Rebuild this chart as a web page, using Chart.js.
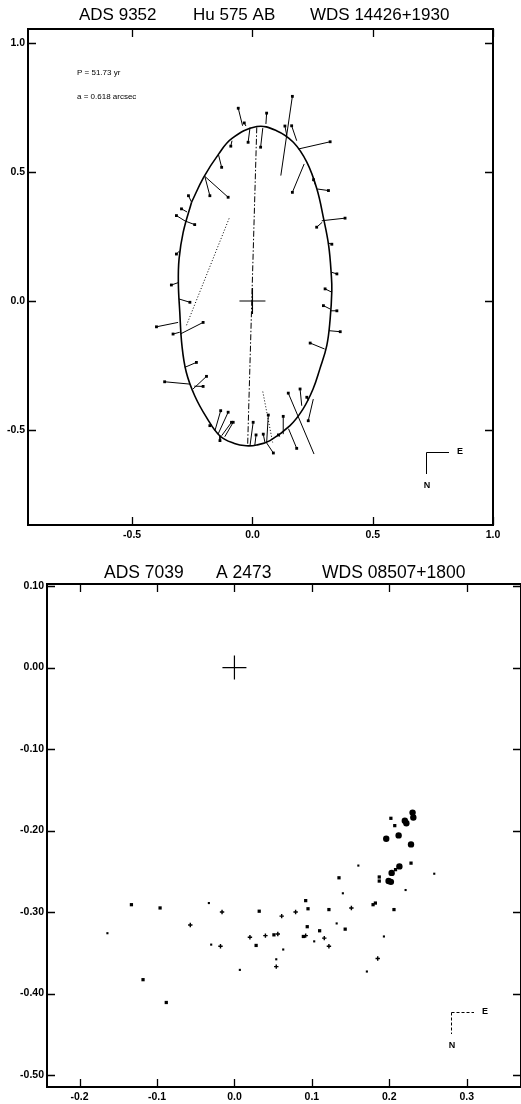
<!DOCTYPE html>
<html>
<head>
<meta charset="utf-8">
<script src="https://cdn.jsdelivr.net/npm/chart.js@4.4.0/dist/chart.umd.min.js"></script>
<style>
  html, body { margin: 0; padding: 0; background: #fff; }
  #wrap { position: relative; width: 521px; height: 1104px; overflow: hidden; }
  #chartTop { position: absolute; left: 0; top: 0; }
  #chartBottom { position: absolute; left: 0; top: 545px; }
</style>
</head>
<body>
<div id="wrap">
  <canvas id="chartTop" width="521" height="545"></canvas>
  <canvas id="chartBottom" width="521" height="559"></canvas>
</div>
<script>
// ---------- top panel: ADS 9352 (orbit + residuals) ----------
const topTitle = ["ADS 9352", "Hu 575 AB", "WDS 14426+1930"];
const topTitleX = [79, 193, 310];
const topNotes = ["P = 51.73 yr", "a = 0.618 arcsec"];
const topXTicks = [-0.5, 0.0, 0.5, 1.0];
const topYTicks = [-0.5, 0.0, 0.5, 1.0];

// apparent orbit (closed, starts on the left flank)
const orbitX = [-0.253, -0.288, -0.305, -0.308, -0.302, -0.293, -0.275, -0.240, -0.191, -0.136, -0.075, -0.026, 0.018, 0.073, 0.156, 0.210, 0.252, 0.280, 0.309, 0.323, 0.330, 0.328, 0.317, 0.296, 0.268, 0.226, 0.170, 0.100, 0.018, -0.085, -0.140, -0.203, -0.253];
const orbitY = [0.383, 0.266, 0.163, 0.070, -0.044, -0.173, -0.276, -0.367, -0.451, -0.522, -0.552, -0.561, -0.558, -0.541, -0.483, -0.419, -0.341, -0.264, -0.173, -0.070, 0.040, 0.098, 0.214, 0.318, 0.434, 0.538, 0.615, 0.660, 0.676, 0.630, 0.570, 0.479, 0.383];

// line of apsides (dash-dot) and the two dotted lines
const apsidesX = [0.018, -0.020];
const apsidesY = [0.673, -0.561];
const dotted1X = [-0.097, -0.275];
const dotted1Y = [0.320, -0.096];
const dotted2X = [0.043, 0.084];
const dotted2Y = [-0.351, -0.548];

// observations and their predicted positions on the orbit
const obsX = [-0.059, 0.059, 0.166, -0.018, 0.034, -0.034, 0.135, 0.163, 0.323, 0.166, 0.254, 0.316, 0.385, 0.267, 0.330, 0.351, -0.090, -0.128, -0.177, -0.101, -0.266, -0.240, -0.316, -0.295, -0.316, -0.337, -0.260, -0.399, -0.330, -0.205, -0.233, -0.365, -0.191, -0.205, -0.132, -0.101, -0.080, -0.087, -0.177, -0.135, 0.003, 0.015, 0.045, 0.066, 0.087, 0.108, 0.128, 0.149, 0.184, 0.198, 0.226, 0.232, 0.240, 0.365, 0.351, 0.295, 0.302];
const obsY = [0.747, 0.728, 0.793, 0.615, 0.596, 0.690, 0.678, 0.679, 0.617, 0.421, 0.470, 0.428, 0.321, 0.286, 0.220, 0.105, 0.600, 0.518, 0.408, 0.402, 0.408, 0.296, 0.331, 0.357, 0.182, 0.062, -0.005, -0.100, -0.128, -0.083, -0.238, -0.313, -0.292, -0.331, -0.425, -0.431, -0.470, -0.470, -0.483, -0.541, -0.470, -0.519, -0.516, -0.442, -0.589, -0.519, -0.447, -0.357, -0.571, -0.341, -0.373, -0.464, -0.163, -0.119, -0.038, -0.018, 0.047];
const fitX = [-0.041, 0.056, 0.118, -0.010, 0.043, -0.027, 0.143, 0.184, 0.191, 0.215, 0.262, 0.270, 0.288, 0.290, 0.315, 0.330, -0.085, -0.142, -0.198, -0.198, -0.253, -0.280, -0.280, -0.272, -0.302, -0.306, -0.306, -0.309, -0.302, -0.300, -0.281, -0.260, -0.247, -0.242, -0.156, -0.143, -0.115, -0.128, -0.172, -0.135, -0.010, 0.010, 0.052, 0.059, 0.059, 0.115, 0.128, 0.256, 0.150, 0.205, 0.232, 0.253, 0.300, 0.318, 0.323, 0.323, 0.330];
const fitY = [0.679, 0.686, 0.486, 0.672, 0.670, 0.678, 0.641, 0.621, 0.589, 0.531, 0.450, 0.434, 0.311, 0.305, 0.225, 0.111, 0.621, 0.570, 0.483, 0.483, 0.383, 0.310, 0.310, 0.345, 0.195, 0.072, 0.008, -0.083, -0.121, -0.128, -0.257, -0.322, -0.341, -0.330, -0.503, -0.516, -0.526, -0.522, -0.478, -0.522, -0.560, -0.558, -0.548, -0.550, -0.550, -0.525, -0.516, -0.593, -0.495, -0.406, -0.385, -0.380, -0.186, -0.115, -0.038, -0.031, 0.034];

// ---------- bottom panel: ADS 7039 (observations only) ----------
const botTitle = ["ADS 7039", "A 2473", "WDS 08507+1800"];
const botTitleX = [104, 216, 322];
const botXTicks = [-0.2, -0.1, 0.0, 0.1, 0.2, 0.3];
const botYTicks = [0.10, 0.00, -0.10, -0.20, -0.30, -0.40, -0.50];

const bigDotX = [0.199, 0.202, 0.203, 0.213, 0.228, 0.230, 0.231, 0.220, 0.222, 0.212, 0.196];
const bigDotY = [-0.262, -0.263, -0.252, -0.244, -0.217, -0.178, -0.184, -0.188, -0.191, -0.206, -0.210];
const squareX = [-0.133, -0.096, -0.118, -0.088, 0.028, 0.032, 0.051, 0.092, 0.095, 0.094, 0.089, 0.110, 0.122, 0.135, 0.143, 0.179, 0.182, 0.187, 0.187, 0.206, 0.208, 0.228, 0.202, 0.207];
const squareY = [-0.291, -0.295, -0.383, -0.411, -0.341, -0.299, -0.328, -0.286, -0.296, -0.318, -0.330, -0.323, -0.297, -0.258, -0.321, -0.291, -0.289, -0.257, -0.262, -0.297, -0.248, -0.240, -0.185, -0.194];
const plusX = [-0.057, -0.018, -0.016, 0.020, 0.040, 0.056, 0.054, 0.061, 0.079, 0.092, 0.116, 0.122, 0.151, 0.185];
const plusY = [-0.316, -0.342, -0.300, -0.331, -0.329, -0.327, -0.367, -0.305, -0.300, -0.329, -0.332, -0.342, -0.295, -0.357];
const dotX = [-0.164, -0.033, -0.030, 0.007, 0.054, 0.063, 0.103, 0.132, 0.140, 0.160, 0.171, 0.193, 0.221, 0.258];
const dotY = [-0.326, -0.289, -0.340, -0.371, -0.358, -0.346, -0.336, -0.314, -0.277, -0.243, -0.373, -0.330, -0.273, -0.253];

const pts = (xs, ys) => xs.map((x, i) => ({ x: x, y: ys[i] }));

const residualSegments = [];
obsX.forEach((x, i) => {
    residualSegments.push({ x: fitX[i], y: fitY[i] });
    residualSegments.push({ x: x, y: obsY[i] });
    residualSegments.push({ x: null, y: null });
});

const FONT = "Arial, 'Liberation Sans', Helvetica, sans-serif";

// frame around the plot area with inward tick marks on every side
const framePlugin = {
    id: "frame",
    afterDatasetsDraw(chart, args, opts) {
        const { ctx, chartArea: a, scales } = chart;
        const x = scales.x, y = scales.y;
        ctx.save();
        ctx.strokeStyle = "#000";
        ctx.lineWidth = opts.width;
        ctx.strokeRect(a.left, a.top, a.right - a.left, a.bottom - a.top);
        ctx.lineWidth = 1.3;
        ctx.beginPath();
        x.ticks.forEach(t => {
            const px = Math.round(x.getPixelForValue(t.value)) + 0.5;
            ctx.moveTo(px, a.bottom);
            ctx.lineTo(px, a.bottom - opts.len);
            ctx.moveTo(px, a.top);
            ctx.lineTo(px, a.top + opts.len);
        });
        y.ticks.forEach(t => {
            const py = Math.round(y.getPixelForValue(t.value)) + 0.5;
            ctx.moveTo(a.left, py);
            ctx.lineTo(a.left + opts.len, py);
            ctx.moveTo(a.right, py);
            ctx.lineTo(a.right - opts.len, py);
        });
        ctx.stroke();
        ctx.restore();
    }
};

// title pieces, notes and the E/N compass
const textPlugin = {
    id: "panelText",
    afterDraw(chart, args, opts) {
        const { ctx, chartArea: a } = chart;
        ctx.save();
        ctx.fillStyle = "#000";
        ctx.textBaseline = "middle";
        ctx.textAlign = "left";
        ctx.font = opts.titleSize + "px " + FONT;
        opts.title.forEach((s, i) => ctx.fillText(s, opts.titleX[i], opts.titleY));

        ctx.font = "8px " + FONT;
        (opts.notes || []).forEach((s, i) => ctx.fillText(s, a.left + 49, a.top + 44 + i * 24));

        // compass
        const c = opts.compass;
        const cx = a.right - c.dx, cy = a.bottom - c.dy;
        ctx.strokeStyle = "#000";
        ctx.lineWidth = 1;
        ctx.setLineDash(c.dash);
        ctx.beginPath();
        ctx.moveTo(cx + 0.5, cy + 0.5);
        ctx.lineTo(cx + 0.5, cy + c.len);
        ctx.moveTo(cx + 0.5, cy + 0.5);
        ctx.lineTo(cx + c.len + 1, cy + 0.5);
        ctx.stroke();
        ctx.setLineDash([]);
        ctx.font = "bold 9px " + FONT;
        ctx.fillText("E", cx + c.len + 9, cy);
        ctx.textAlign = "center";
        ctx.fillText("N", cx + 1, cy + c.len + 12);
        ctx.restore();
    }
};

function axisOpts(ticksArr, min, max, digits, size, isX) {
    return {
        type: "linear",
        position: isX ? "bottom" : "left",
        min: min,
        max: max,
        grid: { display: false, drawTicks: false },
        border: { display: false },
        afterBuildTicks(s) {
            s.ticks = ticksArr.map(v => ({ value: v }));
        },
        afterFit(s) {
            if (isX) s.height = size; else s.width = size;
            s.paddingLeft = 0;
            s.paddingRight = 0;
            s.paddingTop = 0;
            s.paddingBottom = 0;
        },
        ticks: {
            color: "#000",
            padding: isX ? 4 : 3,
            font: { family: FONT, size: 10.5, weight: "bold" },
            callback: v => Number(v).toFixed(digits)
        }
    };
}

new Chart(document.getElementById("chartTop"), {
    type: "scatter",
    data: {
        datasets: [
            {
                data: pts(orbitX, orbitY),
                showLine: true,
                tension: 0.4,
                borderColor: "#000",
                borderWidth: 1.6,
                pointRadius: 0
            },
            {
                data: pts(apsidesX, apsidesY),
                showLine: true,
                borderColor: "#000",
                borderWidth: 1,
                borderDash: [6, 2, 1.5, 2],
                pointRadius: 0
            },
            {
                data: pts(dotted1X, dotted1Y),
                showLine: true,
                borderColor: "#000",
                borderWidth: 1,
                borderDash: [1, 2],
                pointRadius: 0
            },
            {
                data: pts(dotted2X, dotted2Y),
                showLine: true,
                borderColor: "#000",
                borderWidth: 1,
                borderDash: [1, 2],
                pointRadius: 0
            },
            {
                data: residualSegments,
                showLine: true,
                spanGaps: false,
                borderColor: "#000",
                borderWidth: 1,
                pointRadius: 0
            },
            {
                data: pts(obsX, obsY),
                pointStyle: "rect",
                pointRadius: 2,
                backgroundColor: "#000",
                borderColor: "#000",
                borderWidth: 0
            },
            {
                data: [{ x: 0, y: 0 }],
                pointStyle: "cross",
                pointRadius: 13,
                borderColor: "#000",
                borderWidth: 1.2
            }
        ]
    },
    options: {
        responsive: false,
        animation: false,
        events: [],
        layout: { autoPadding: false, padding: { top: 29, right: 28, bottom: 0, left: 0 } },
        scales: {
            x: axisOpts(topXTicks, -0.933, 1.0, 1, 20, true),
            y: axisOpts(topYTicks, -0.868, 1.054, 1, 28, false)
        },
        plugins: {
            legend: { display: false },
            tooltip: { enabled: false },
            frame: { width: 2, len: 8 },
            panelText: {
                title: topTitle, titleX: topTitleX, titleY: 15, titleSize: 17,
                notes: topNotes,
                compass: { dx: 67, dy: 73, len: 22, dash: [] }
            }
        }
    },
    plugins: [framePlugin, textPlugin]
});

new Chart(document.getElementById("chartBottom"), {
    type: "scatter",
    data: {
        datasets: [
            {
                data: pts(bigDotX, bigDotY),
                pointStyle: "circle",
                pointRadius: 3.2,
                backgroundColor: "#000",
                borderWidth: 0
            },
            {
                data: pts(squareX, squareY),
                pointStyle: "rect",
                pointRadius: 2.3,
                backgroundColor: "#000",
                borderWidth: 0
            },
            {
                data: pts(plusX, plusY),
                pointStyle: "cross",
                pointRadius: 2.2,
                borderColor: "#000",
                borderWidth: 1.4
            },
            {
                data: pts(dotX, dotY),
                pointStyle: "rect",
                pointRadius: 1.5,
                backgroundColor: "#000",
                borderWidth: 0
            },
            {
                data: [{ x: 0, y: 0 }],
                pointStyle: "cross",
                pointRadius: 12,
                borderColor: "#000",
                borderWidth: 1.2
            }
        ]
    },
    options: {
        responsive: false,
        animation: false,
        events: [],
        layout: { autoPadding: false, padding: { top: 39, right: 0, bottom: 0, left: 0 } },
        scales: {
            x: axisOpts(botXTicks, -0.242, 0.370, 1, 17, true),
            y: axisOpts(botYTicks, -0.5147, 0.1025, 2, 47, false)
        },
        plugins: {
            legend: { display: false },
            tooltip: { enabled: false },
            frame: { width: 2, len: 8 },
            panelText: {
                title: botTitle, titleX: botTitleX, titleY: 28, titleSize: 17.5,
                compass: { dx: 70, dy: 75, len: 22, dash: [3, 2] }
            }
        }
    },
    plugins: [framePlugin, textPlugin]
});
</script>
</body>
</html>
